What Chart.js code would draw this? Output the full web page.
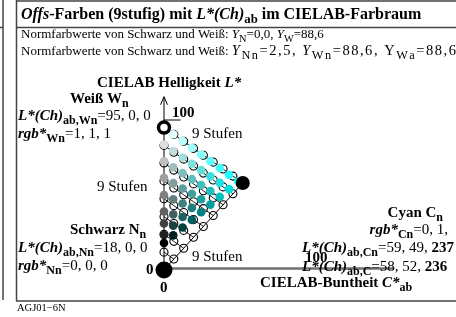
<!DOCTYPE html>
<html>
<head>
<meta charset="utf-8">
<script src="https://cdn.jsdelivr.net/npm/chart.js@4/dist/chart.umd.min.js"></script>
<style>
  html, body { margin: 0; padding: 0; background: #fff; }
  canvas { display: block; }
</style>
</head>
<body>
<canvas id="c" width="456" height="317"></canvas>
<script>
// filled dots: 9 step triangle W - N - Cn, one row per step towards black
const dotC = [
  [0, 6.1, 12.3, 18.4, 24.5, 30.6, 36.8, 42.9, 49],
  [0, 6.1, 12.3, 18.4, 24.5, 30.6, 36.8, 42.9],
  [0, 6.1, 12.3, 18.4, 24.5, 30.6, 36.8],
  [0, 6.1, 12.3, 18.4, 24.5, 30.6],
  [0, 6.1, 12.3, 18.4, 24.5],
  [0, 6.1, 12.3, 18.4],
  [0, 6.1, 12.3],
  [0, 6.1],
  [0]
];
const dotL = [
  [95, 90.5, 86, 81.5, 77, 72.5, 68, 63.5, 59],
  [83.5, 79.3, 75, 70.8, 66.6, 62.4, 58.1, 53.9],
  [72.5, 68.5, 64.6, 60.6, 56.7, 52.7, 48.8],
  [61.5, 57.9, 54.3, 50.8, 47.2, 43.6],
  [50, 47.1, 44.3, 41.4, 38.5],
  [39, 37.1, 35.3, 33.4],
  [31, 29.6, 28.3],
  [23.3, 23.1],
  [18]
];
// open circles: 9 step triangle W - 0 - C
const ringC = [
  [0, 6.5, 13, 19.5, 26, 32.5, 39, 45.5, 52],
  [0, 6.5, 13, 19.5, 26, 32.5, 39, 45.5],
  [0, 6.5, 13, 19.5, 26, 32.5, 39],
  [0, 6.5, 13, 19.5, 26, 32.5],
  [0, 6.5, 13, 19.5, 26],
  [0, 6.5, 13, 19.5],
  [0, 6.5, 13],
  [0, 6.5],
  [0]
];
const ringL = [
  [95, 90.4, 85.8, 81.1, 76.5, 71.9, 67.3, 62.6, 58],
  [83.1, 78.5, 73.9, 69.3, 64.6, 60, 55.4, 50.8],
  [71.3, 66.6, 62, 57.4, 52.8, 48.1, 43.5],
  [59.4, 54.7, 50.1, 45.5, 40.9, 36.3],
  [47.5, 42.9, 38.3, 33.6, 29],
  [35.6, 31, 26.4, 21.8],
  [23.8, 19.1, 14.5],
  [11.9, 7.3],
  [0]
];
const edgeC = [0, 52];      // black 0 -> Cyan C
const edgeL = [0, 58];
const whiteCL = [0, 95];
const cyanCL = [52, 58];
const blackCL = [0, 0];
const axisLmax = 115.5;
const axisCmax = 152;

const pts = (cs, ls) => cs.map((c, i) => ({ x: c, y: ls[i] }));

const datasets = [];
// big markers on top
datasets.push({ data: [{ x: blackCL[0], y: blackCL[1] }], pointRadius: 8.5, backgroundColor: '#000', borderColor: '#000', borderWidth: 0, order: 0 });
datasets.push({ data: [{ x: cyanCL[0], y: cyanCL[1] }], pointRadius: 7, backgroundColor: '#000', borderColor: '#000', borderWidth: 0, order: 0 });
datasets.push({ data: [{ x: whiteCL[0], y: whiteCL[1] }], pointRadius: 5.5, backgroundColor: '#fff', borderColor: '#000', borderWidth: 3.5, order: 0 });
// filled colour dots
const dotPts = [], dotCols = [];
dotC.forEach((row, k) => row.forEach((c, j) => {
  dotPts.push({ x: c, y: dotL[k][j] });
  const r = Math.round(255 * (8 - k - j) / 8), g = Math.round(255 * (8 - k) / 8);
  dotCols.push(`rgb(${r},${g},${g})`);
}));
datasets.push({ data: dotPts, pointRadius: 4.3, backgroundColor: dotCols, borderWidth: 0, order: 1 });
// open circles
const ringPts = [];
ringC.forEach((row, k) => row.forEach((c, j) => ringPts.push({ x: c, y: ringL[k][j] })));
datasets.push({ data: ringPts, pointRadius: 4, backgroundColor: 'rgba(0,0,0,0)', borderColor: '#000', borderWidth: 1.1, order: 2 });
// lines
ringC.forEach((row, k) => { if (row.length > 1) datasets.push({ data: pts(row, ringL[k]), showLine: true, pointRadius: 0, borderColor: '#000', borderWidth: 0.9, order: 3 }); });
datasets.push({ data: pts(edgeC, edgeL), showLine: true, pointRadius: 0, borderColor: '#000', borderWidth: 1, order: 3 });
datasets.push({ data: [{ x: 0, y: 0 }, { x: 0, y: axisLmax }], showLine: true, pointRadius: 0, borderColor: '#000', borderWidth: 1, order: 3 });
datasets.push({ data: [{ x: 0, y: 100 }, { x: 11, y: 100 }], showLine: true, pointRadius: 0, borderColor: '#000', borderWidth: 1, order: 3 });
datasets.push({ data: [{ x: 0, y: 1 }, { x: axisCmax, y: 1 }], showLine: true, pointRadius: 0, borderColor: '#707070', borderWidth: 2.5, order: 4 });

const SERIF = '"Liberation Serif", "DejaVu Serif", serif';
function font(st, size) {
  const b = st.includes('b') ? 'bold ' : '', i = st.includes('i') ? 'italic ' : '';
  return `${i}${b}${size}px ${SERIF}`;
}
// segments: [text, style, isSubscript]; fitEnd spreads the letters to end there
function rich(ctx, x, y, segs, size, align, fitEnd, subRatio) {
  const sub = size * (subRatio || 0.8);
  let w = 0, n = 0;
  segs.forEach(s => { ctx.font = font(s[1], s[2] ? sub : size); w += ctx.measureText(s[0]).width; n += s[0].length; });
  ctx.save();
  const x0 = align === 'right' ? x - w : x;
  let gap = 0;
  if (fitEnd) gap = Math.max(0, (fitEnd - x0 - w) / Math.max(1, n - 1));
  let cx = x0;
  segs.forEach(s => {
    ctx.font = font(s[1], s[2] ? sub : size);
    const yy = s[2] ? y + size * 0.28 : y;
    if (gap) {
      for (const ch of s[0]) { ctx.fillText(ch, cx, yy); cx += ctx.measureText(ch).width + gap; }
    } else {
      ctx.fillText(s[0], cx, yy); cx += ctx.measureText(s[0]).width;
    }
  });
  ctx.restore();
  return cx;
}

const deco = {
  id: 'deco',
  beforeDraw(chart) {
    const ctx = chart.ctx;
    ctx.save(); ctx.fillStyle = '#fff'; ctx.fillRect(0, 0, chart.width, chart.height); ctx.restore();
  },
  afterDraw(chart) {
    const ctx = chart.ctx, xs = chart.scales.x, ys = chart.scales.y;
    ctx.save();
    // frame
    ctx.strokeStyle = '#444'; ctx.lineWidth = 1.5;
    ctx.beginPath();
    ctx.moveTo(16.5, 0); ctx.lineTo(16.5, 301);
    ctx.moveTo(16, 1); ctx.lineTo(456, 1);
    ctx.moveTo(16, 27.5); ctx.lineTo(456, 27.5);
    ctx.moveTo(16, 301); ctx.lineTo(456, 301);
    ctx.moveTo(3, 0); ctx.lineTo(3, 300);
    ctx.moveTo(0, 27.5); ctx.lineTo(3, 27.5);
    ctx.stroke();
    // arrow head of L axis
    const ax = xs.getPixelForValue(0), ay = ys.getPixelForValue(axisLmax);
    ctx.strokeStyle = '#000'; ctx.lineWidth = 1;
    ctx.beginPath(); ctx.moveTo(ax - 3.5, ay + 8); ctx.lineTo(ax, ay); ctx.lineTo(ax + 3.5, ay + 8); ctx.stroke();
    // texts
    ctx.fillStyle = '#000'; ctx.textBaseline = 'alphabetic';
    const F = 15, H = 13;
    rich(ctx, 21, 19, [['Offs', 'bi'], ['-Farben (9stufig) mit ', 'b'], ['L*(Ch)', 'bi'], ['ab', 'b', 1], [' im CIELAB-Farbraum', 'b']], 16);
    const pre = 'Normfarbwerte von Schwarz und Weiß: ';
    rich(ctx, 21, 38, [[pre, 'r'], ['Y', 'i'], ['N', 'r', 1], ['=0,0, ', 'r'], ['Y', 'i'], ['W', 'r', 1], ['=88,6', 'r']], H);
    const e = rich(ctx, 21, 55, [[pre, 'r']], H);
    rich(ctx, e, 55, [['Y', 'i'], ['Nn', 'r', 1], ['=2,5, ', 'r'], ['Y', 'i'], ['Wn', 'r', 1], ['=88,6, Y', 'r'], ['Wa', 'r', 1], ['=88,6', 'r']], 14.5, null, 455, 0.85);
    rich(ctx, 97, 87, [['CIELAB Helligkeit ', 'b'], ['L*', 'bi']], F);
    rich(ctx, 70, 103, [['Weiß W', 'b'], ['n', 'b', 1]], F);
    rich(ctx, 18, 120, [['L*(Ch)', 'bi'], ['ab,Wn', 'b', 1], ['=95, 0, 0', 'r']], F);
    rich(ctx, 18, 138, [['rgb*', 'bi'], ['Wn', 'b', 1], ['=1, 1, 1', 'r']], F);
    rich(ctx, 172, 117, [['100', 'b']], F);
    rich(ctx, 192, 138, [['9 Stufen', 'r']], F);
    rich(ctx, 97, 191, [['9 Stufen', 'r']], F);
    rich(ctx, 192, 261, [['9 Stufen', 'r']], F);
    rich(ctx, 70, 234, [['Schwarz N', 'b'], ['n', 'b', 1]], F);
    rich(ctx, 18, 252, [['L*(Ch)', 'bi'], ['ab,Nn', 'b', 1], ['=18, 0, 0', 'r']], F);
    rich(ctx, 18, 270, [['rgb*', 'bi'], ['Nn', 'b', 1], ['=0, 0, 0', 'r']], F);
    rich(ctx, 146, 274, [['0', 'b']], F);
    rich(ctx, 160, 292, [['0', 'b']], F);
    rich(ctx, 443, 217, [['Cyan C', 'b'], ['n', 'b', 1]], F, 'right');
    rich(ctx, 448, 234, [['rgb*', 'bi'], ['Cn', 'b', 1], ['=0, 1,', 'r']], F, 'right');
    rich(ctx, 302, 252, [['L*(Ch)', 'bi'], ['ab,Cn', 'b', 1], ['=59, 49, ', 'r'], ['237', 'b']], F);
    rich(ctx, 305, 262, [['100', 'b']], F);
    rich(ctx, 302, 271, [['L*(Ch)', 'bi'], ['ab,C', 'b', 1], ['=58, 52, ', 'r'], ['236', 'b']], F);
    rich(ctx, 260, 287, [['CIELAB-Buntheit ', 'b'], ['C*', 'bi'], ['ab', 'b', 1]], F);
    rich(ctx, 17, 311, [['AGJ01\u22126N', 'r']], 10.5);
    ctx.restore();
  }
};

new Chart(document.getElementById('c').getContext('2d'), {
  type: 'scatter',
  data: { datasets },
  options: {
    responsive: false, animation: false, devicePixelRatio: 1,
    layout: { padding: 0, autoPadding: false },
    plugins: { legend: { display: false }, tooltip: { enabled: false } },
    elements: { line: { tension: 0 } },
    scales: {
      x: { type: 'linear', display: false, min: -108.25, max: 192.75 },
      y: { type: 'linear', display: false, min: -31.33, max: 180 }
    }
  },
  plugins: [deco]
});
</script>
</body>
</html>
